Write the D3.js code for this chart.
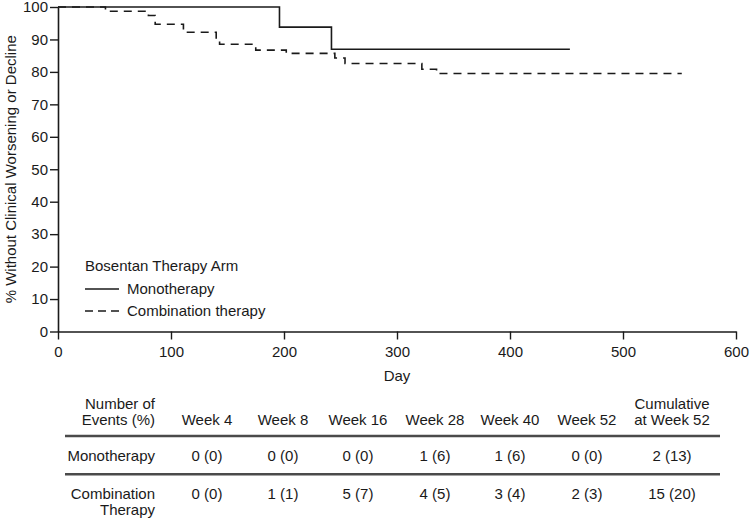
<!DOCTYPE html>
<html>
<head>
<meta charset="utf-8">
<script src="https://cdn.jsdelivr.net/npm/d3@7"></script>
<style>
  html, body { margin: 0; padding: 0; background: #fff; }
  svg { display: block; font-family: "Liberation Sans", Arial, Helvetica, sans-serif; }
</style>
</head>
<body>
<svg id="chart" width="751" height="519"></svg>
<script>
// ---- Data ----
const xTicks = [0, 100, 200, 300, 400, 500, 600];
const yTicks = [0, 10, 20, 30, 40, 50, 60, 70, 80, 90, 100];

const monoDays = [0, 196, 242, 453];
const monoSurv = [100, 93.8, 87.0, 87.0];

const comboDays = [0, 42, 80, 86, 111, 140, 143, 175, 202, 245, 254, 322, 335, 552];
const comboSurv = [100, 98.7, 97.4, 94.7, 92.2, 90.0, 88.5, 86.7, 85.7, 84.3, 82.6, 80.8, 79.5, 79.5];

const legendTitle = "Bosentan Therapy Arm";
const seriesNames = ["Monotherapy", "Combination therapy"];

const tableHeaderLine1 = ["Number of", "", "", "", "", "", "", "Cumulative"];
const tableHeaderLine2 = ["Events (%)", "Week 4", "Week 8", "Week 16", "Week 28", "Week 40", "Week 52", "at Week 52"];
const monoRow = ["0 (0)", "0 (0)", "0 (0)", "1 (6)", "1 (6)", "0 (0)", "2 (13)"];
const comboRow = ["0 (0)", "1 (1)", "5 (7)", "4 (5)", "3 (4)", "2 (3)", "15 (20)"];
const rowLabels = [["Monotherapy"], ["Combination", "Therapy"]];

// ---- Layout ----
const svg = d3.select("#chart");
const margin = { left: 58, right: 736, top: 7, bottom: 331.5 };
const ink = "#1a1a1a";
const fs = "15px";

const x = d3.scaleLinear().domain([0, 600]).range([margin.left, margin.right]);
const y = d3.scaleLinear().domain([0, 100]).range([margin.bottom, margin.top]);

// Axes
const xAxis = svg.append("g")
  .attr("transform", `translate(0,${margin.bottom})`)
  .call(d3.axisBottom(x).tickValues(xTicks).tickSize(8).tickPadding(7).tickSizeOuter(0));
const yAxis = svg.append("g")
  .attr("transform", `translate(${margin.left},0)`)
  .call(d3.axisLeft(y).tickValues(yTicks).tickSize(8).tickPadding(2).tickSizeOuter(0));

[xAxis, yAxis].forEach(g => {
  g.select(".domain").attr("stroke", ink).attr("stroke-width", 1.6);
  g.selectAll(".tick line").attr("stroke", ink).attr("stroke-width", 1.4);
  g.selectAll(".tick text").attr("fill", ink).style("font-size", fs)
    .style("font-family", "'Liberation Sans', Arial, sans-serif");
});

// Axis titles
svg.append("text")
  .attr("x", (margin.left + margin.right) / 2).attr("y", 381)
  .attr("text-anchor", "middle").attr("fill", ink).style("font-size", fs)
  .text("Day");
svg.append("text")
  .attr("transform", `translate(15.5,${(margin.top + margin.bottom) / 2}) rotate(-90)`)
  .attr("text-anchor", "middle").attr("fill", ink).style("font-size", fs)
  .text("% Without Clinical Worsening or Decline");

// Curves
const line = d3.line().x(d => x(d[0])).y(d => y(d[1])).curve(d3.curveStepAfter);
const comboData = comboDays.map((d, i) => [d, comboSurv[i]]);
const monoData = monoDays.map((d, i) => [d, monoSurv[i]]);

svg.append("path").datum(comboData).attr("d", line)
  .attr("fill", "none").attr("stroke", ink).attr("stroke-width", 1.6)
  .attr("stroke-dasharray", "8,6");
svg.append("path").datum(monoData).attr("d", line)
  .attr("fill", "none").attr("stroke", ink).attr("stroke-width", 1.6);

// Legend
const lg = svg.append("g").style("font-size", fs).attr("fill", ink);
lg.append("text").attr("x", 85).attr("y", 266).attr("dy", "0.35em").text(legendTitle);
const legendY = [289, 311];
const legendDash = [null, "8,5"];
seriesNames.forEach((name, i) => {
  lg.append("line").attr("x1", 85).attr("x2", 119).attr("y1", legendY[i]).attr("y2", legendY[i])
    .attr("stroke", ink).attr("stroke-width", 1.6)
    .attr("stroke-dasharray", legendDash[i]);
  lg.append("text").attr("x", 127).attr("y", legendY[i]).attr("dy", "0.35em").text(name);
});

// Table
const colX = [155, 207, 283, 358, 435, 510, 587, 672];
const tg = svg.append("g").style("font-size", fs).attr("fill", ink);
const anchorFor = i => (i === 0 ? "end" : "middle");
tableHeaderLine1.forEach((t, i) => {
  if (t) tg.append("text").attr("x", colX[i]).attr("y", 404).attr("dy", "0.35em")
    .attr("text-anchor", anchorFor(i)).text(t);
});
tableHeaderLine2.forEach((t, i) => {
  tg.append("text").attr("x", colX[i]).attr("y", 420).attr("dy", "0.35em")
    .attr("text-anchor", anchorFor(i)).text(t);
});
[436, 474.3].forEach(yy => {
  svg.append("line").attr("x1", 65).attr("x2", 720).attr("y1", yy).attr("y2", yy)
    .attr("stroke", "#4a4a4a").attr("stroke-width", 2.4);
});
const rowY = [455.7, 493.3];
[monoRow, comboRow].forEach((row, r) => {
  rowLabels[r].forEach((lbl, k) => {
    tg.append("text").attr("x", colX[0]).attr("y", rowY[r] + k * 16.7).attr("dy", "0.35em")
      .attr("text-anchor", "end").text(lbl);
  });
  row.forEach((v, i) => {
    tg.append("text").attr("x", colX[i + 1]).attr("y", rowY[r]).attr("dy", "0.35em")
      .attr("text-anchor", "middle").text(v);
  });
});
</script>
</body>
</html>
